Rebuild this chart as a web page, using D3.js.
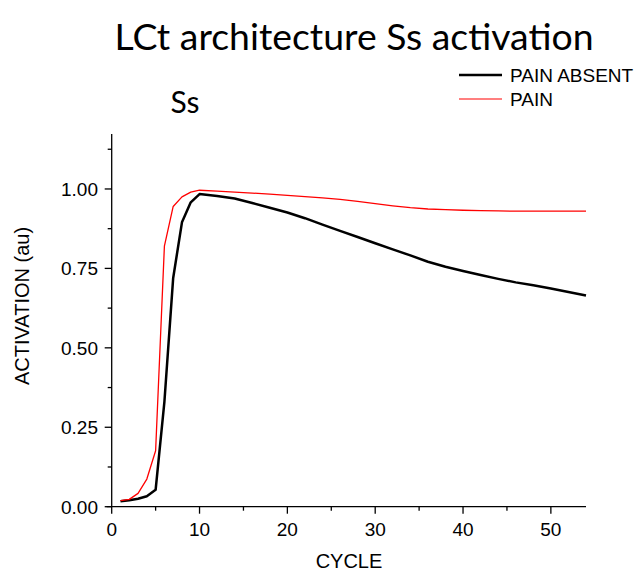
<!DOCTYPE html>
<html lang="en">
<head>
<meta charset="UTF-8">
<title>LCt architecture Ss activation</title>
<style>
    body { margin: 0; background: #fff; }
    svg { display: block; }
    .tick-label { font-family: "Liberation Sans", Arial, sans-serif; font-size: 19px; fill: #000; }
    .axis-title { font-family: "Liberation Sans", Arial, sans-serif; font-size: 20px; fill: #000; }
    .legend-text { font-family: "Liberation Sans", Arial, sans-serif; font-size: 19px; fill: #000; }
</style>
</head>
<body>
<svg id="chart" width="641" height="573"></svg>
<script src="https://d3js.org/d3.v7.min.js"></script>
<script>
// cycles and activation values
const cycles = [1, 2, 3, 4, 5, 6, 7, 8, 9, 10, 12, 14, 16, 18, 20, 22, 24, 26, 28, 30,
    32, 34, 36, 38, 40, 42, 44, 46, 48, 50, 52, 54];
const painAbsent = [0.017, 0.02, 0.025, 0.033, 0.053, 0.33, 0.72, 0.895, 0.958, 0.984,
    0.978, 0.970, 0.956, 0.941, 0.926, 0.908, 0.888, 0.868, 0.849, 0.829,
    0.810, 0.791, 0.771, 0.755, 0.742, 0.729, 0.717, 0.706, 0.697, 0.687, 0.676, 0.665];
const pain = [0.019, 0.023, 0.042, 0.087, 0.176, 0.82, 0.945, 0.975, 0.99, 0.996,
    0.993, 0.990, 0.987, 0.984, 0.980, 0.976, 0.972, 0.967, 0.961, 0.954,
    0.947, 0.941, 0.937, 0.935, 0.933, 0.932, 0.931, 0.930, 0.930, 0.930, 0.930, 0.930];

const xTicks = [0, 10, 20, 30, 40, 50];
const xMinor = [5, 15, 25, 35, 45];
const yTicks = [0, 0.25, 0.5, 0.75, 1.0];
const yMinor = [0.125, 0.375, 0.625, 0.875, 1.125];

const seriesNames = ["PAIN ABSENT", "PAIN"];
const seriesColors = ["#000", "#ff0000"];
const seriesWidths = [2.5, 1.3];

const svg = d3.select("#chart");

const x = d3.scaleLinear().domain([0, 54]).range([111.7, 586]);
const y = d3.scaleLinear().domain([0, 1.173]).range([506.7, 134]);

// titles
svg.append("text")
    .attr("x", 354).attr("y", 50)
    .attr("text-anchor", "middle")
    .style("font-family", "Lato, 'Open Sans', sans-serif")
    .style("font-size", "36px")
    .attr("textLength", 479)
    .attr("lengthAdjust", "spacingAndGlyphs")
    .text("LCt architecture Ss activation");

svg.append("text")
    .attr("x", 185).attr("y", 113)
    .attr("text-anchor", "middle")
    .style("font-family", "Lato, 'Open Sans', sans-serif")
    .style("font-size", "30px")
    .text("Ss");

// axes
const axisG = svg.append("g").attr("stroke", "#000").attr("stroke-width", 1.3);
axisG.append("line")
    .attr("x1", x(0) - 5).attr("x2", x(54))
    .attr("y1", y(0)).attr("y2", y(0));
axisG.append("line")
    .attr("x1", x(0)).attr("x2", x(0))
    .attr("y1", y(0)).attr("y2", y(1.173));

axisG.selectAll(".xmaj").data(xTicks).enter().append("line")
    .attr("x1", d => x(d)).attr("x2", d => x(d))
    .attr("y1", y(0)).attr("y2", y(0) + 7);
axisG.selectAll(".xmin").data(xMinor).enter().append("line")
    .attr("x1", d => x(d)).attr("x2", d => x(d))
    .attr("y1", y(0)).attr("y2", y(0) + 4);
axisG.selectAll(".ymaj").data(yTicks).enter().append("line")
    .attr("x1", x(0) - 7).attr("x2", x(0))
    .attr("y1", d => y(d)).attr("y2", d => y(d));
axisG.selectAll(".ymin").data(yMinor).enter().append("line")
    .attr("x1", x(0) - 4).attr("x2", x(0))
    .attr("y1", d => y(d)).attr("y2", d => y(d));

svg.selectAll(".xlab").data(xTicks).enter().append("text")
    .attr("class", "tick-label")
    .attr("x", d => x(d)).attr("y", 536)
    .attr("text-anchor", "middle")
    .text(d => d);
svg.selectAll(".ylab").data(yTicks).enter().append("text")
    .attr("class", "tick-label")
    .attr("x", 98).attr("y", d => y(d) + 7)
    .attr("text-anchor", "end")
    .text(d => d.toFixed(2));

svg.append("text")
    .attr("class", "axis-title")
    .attr("x", 349).attr("y", 568)
    .attr("text-anchor", "middle")
    .text("CYCLE");
svg.append("text")
    .attr("class", "axis-title")
    .attr("transform", "translate(29,306) rotate(-90)")
    .attr("text-anchor", "middle")
    .text("ACTIVATION (au)");

// lines
const line = d3.line()
    .x((d, i) => x(cycles[i]))
    .y(d => y(d));

[painAbsent, pain].forEach((vals, k) => {
    svg.append("path")
        .datum(vals)
        .attr("fill", "none")
        .attr("stroke", seriesColors[k])
        .attr("stroke-width", seriesWidths[k])
        .attr("stroke-linejoin", "round")
        .attr("d", line);
});

// legend
const legend = svg.append("g");
seriesNames.forEach((name, k) => {
    const ly = 75 + k * 24;
    legend.append("line")
        .attr("x1", 459).attr("x2", 502)
        .attr("y1", ly).attr("y2", ly)
        .attr("stroke", seriesColors[k])
        .attr("stroke-width", k === 0 ? 2.5 : 1.2);
    legend.append("text")
        .attr("class", "legend-text")
        .attr("x", 510).attr("y", ly + 7)
        .text(name);
});
</script>
</body>
</html>
